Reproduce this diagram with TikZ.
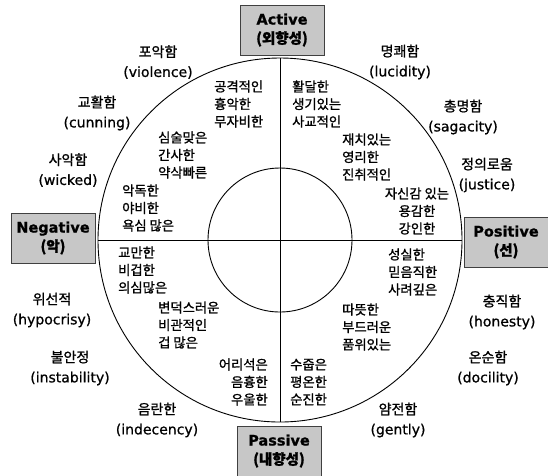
\documentclass[tikz,border=0pt]{standalone}
\usepackage{fontspec}
\setmainfont[FakeBold=0.8]{DejaVu Sans}
\newfontfamily\kr[FakeBold=1.2]{Noto Sans CJK KR}
\usetikzlibrary{positioning, calc}

\begin{document}
\begin{tikzpicture}[
    x=1pt, y=1pt,
    axisbox/.style={
        draw=black!75,
        fill=black!22,
        line width=0.6pt,
        minimum width=84pt,
        minimum height=50pt,
        align=center,
        inner sep=1pt,
        font=\fontsize{14.5}{19}\selectfont\bfseries
    },
    traitword/.style={
        align=left,
        inner sep=0pt,
        font=\kr\fontsize{13.3}{17.5}\selectfont
    },
    outerword/.style={
        align=center,
        inner sep=0pt,
        font=\fontsize{14}{20}\selectfont
    },
    ring/.style={line width=0.9pt}
]

\useasboundingbox (0,0) rectangle (548,-475);

% parameters
\def\R{182}
\def\r{72}
\coordinate (c) at (280,-240);

% rings and axes
\draw[ring] (c) circle[radius=\R];
\draw[ring] (c) circle[radius=\r];
\coordinate (top) at ($(c)+(0,\R)$);
\coordinate (bot) at ($(c)-(0,\R)$);
\coordinate (lft) at ($(c)-(\R,0)$);
\coordinate (rgt) at ($(c)+(\R,0)$);
\draw[ring] (top) -- (bot);
\draw[ring] (lft) -- (rgt);

% axis boxes
\node[axisbox] (active) at (282,-30) {Active\\{\kr (외향성)}};
\node[axisbox] (negative) at (53,-238) {Negative\\{\kr (악)}};
\node[axisbox] (positive) at (506,-242) {Positive\\{\kr (선)}};
\node[axisbox] (passive) at (279,-451) {Passive\\{\kr (내향성)}};

% trait words inside the ring
\node[traitword, anchor=west] (aggr) at (214,-104) {공격적인\\흉악한\\무자비한};
\node[traitword, anchor=west] (lively) at (292,-104) {활달한\\생기있는\\사교적인};
\node[traitword, anchor=west] (spite) at (158,-155) {심술맞은\\간사한\\약삭빠른};
\node[traitword, anchor=west] (witty) at (342,-157) {재치있는\\영리한\\진취적인};
\node[traitword, anchor=west] (vicious) at (122,-208) {악독한\\야비한\\욕심 많은};
\node[traitword, align=center] (brave) at (417,-211) {자신감 있는\\용감한\\강인한};
\node[traitword, anchor=west] (proud) at (118,-270) {교만한\\비겁한\\의심많은};
\node[traitword, anchor=west] (sincere) at (388,-272) {성실한\\믿음직한\\사려깊은};
\node[traitword, anchor=west] (fickle) at (158,-325) {변덕스러운\\비관적인\\겁 많은};
\node[traitword, anchor=west] (warm) at (342,-327) {따뜻한\\부드러운\\품위있는};
\node[traitword, align=right, anchor=east] (foolish) at (268,-382) {어리석은\\음흉한\\우울한};
\node[traitword, anchor=west] (shy) at (290,-382) {수줍은\\평온한\\순진한};

% words outside the ring
\node[outerword] (violence) at (158,-62) {{\kr 포악함}\\(violence)};
\node[outerword] (cunning) at (97,-113) {{\kr 교활함}\\(cunning)};
\node[outerword] (wicked) at (68,-170) {{\kr 사악함}\\(wicked)};
\node[outerword] (hypocrisy) at (52,-310) {{\kr 위선적}\\(hypocrisy)};
\node[outerword] (instability) at (70,-368) {{\kr 불안정}\\(instability)};
\node[outerword] (indecency) at (157,-420) {{\kr 음란한}\\(indecency)};
\node[outerword] (lucidity) at (400,-62) {{\kr 명쾌함}\\(lucidity)};
\node[outerword] (sagacity) at (463,-117) {{\kr 총명함}\\(sagacity)};
\node[outerword] (justice) at (487,-175) {{\kr 정의로움}\\(justice)};
\node[outerword] (honesty) at (502,-312) {{\kr 충직함}\\(honesty)};
\node[outerword] (docility) at (488,-368) {{\kr 온순함}\\(docility)};
\node[outerword] (gently) at (398,-420) {{\kr 얌전함}\\(gently)};

\end{tikzpicture}
\end{document}
